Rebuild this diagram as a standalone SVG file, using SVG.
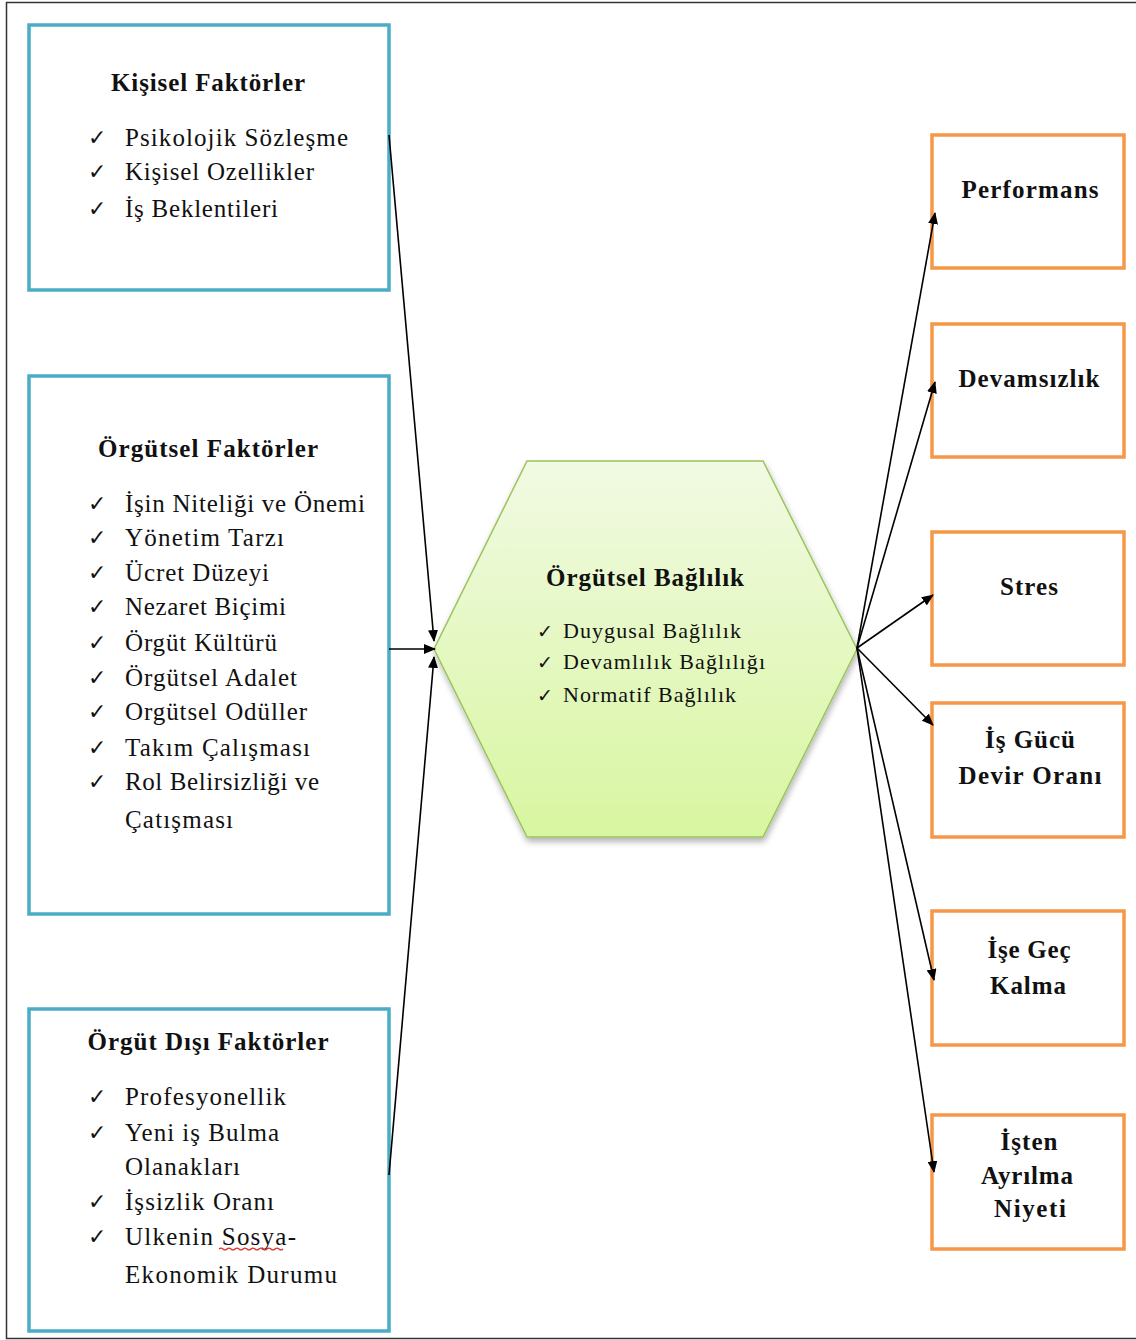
<svg xmlns="http://www.w3.org/2000/svg" width="1136" height="1340" viewBox="0 0 1136 1340">
  <defs>
    <linearGradient id="hexFill" x1="0" y1="0" x2="0" y2="1">
      <stop offset="0" stop-color="#f1fae3"/>
      <stop offset="1" stop-color="#d8f6a0"/>
    </linearGradient>
    <filter id="softShadow" x="-10%" y="-10%" width="120%" height="125%">
      <feGaussianBlur in="SourceAlpha" stdDeviation="3"/>
      <feOffset dx="1" dy="4" result="b"/>
      <feComponentTransfer><feFuncA type="linear" slope="0.3"/></feComponentTransfer>
      <feMerge><feMergeNode/><feMergeNode in="SourceGraphic"/></feMerge>
    </filter>
    <marker id="arrow" viewBox="0 0 12 10" refX="11" refY="5" markerWidth="12" markerHeight="10" markerUnits="userSpaceOnUse" orient="auto">
      <path d="M0,0 L12,5 L0,10 Z" fill="#000"/>
    </marker>
  </defs>
  <style>
    .frame { fill: none; stroke: #333; stroke-width: 1.5; }
    .blue { fill: #fff; stroke: #4bacc6; stroke-width: 3.5; }
    .orange { fill: #fff; stroke: #f79646; stroke-width: 3.5; }
    .title { font-family: "Liberation Serif", "Times New Roman", serif; font-size: 25px; font-weight: bold; fill: #111; text-anchor: middle; }
    .item { font-family: "Liberation Serif", "Times New Roman", serif; font-size: 25px; fill: #111; }
    .hitem { font-family: "Liberation Serif", "Times New Roman", serif; font-size: 22px; fill: #111; }
    .check { font-family: "DejaVu Sans", sans-serif; font-size: 22px; fill: #111; }
    .hcheck { font-family: "DejaVu Sans", sans-serif; font-size: 19px; fill: #111; }
    .conn { fill: none; stroke: #000; stroke-width: 1.6; marker-end: url(#arrow); }
  </style>

  <rect width="1136" height="1340" fill="#fff"/>
  <rect class="frame" x="6.5" y="2.5" width="1140" height="1336"/>

  <!-- personal factors -->
  <g id="kisisel">
    <rect class="blue" x="29" y="25" width="360" height="265"/>
    <text class="title" x="208" y="91" textLength="194" lengthAdjust="spacing">Kişisel Faktörler</text>
    <text class="check" x="88" y="145">✓</text>
    <text class="item" x="125" y="146" textLength="223" lengthAdjust="spacing">Psikolojik Sözleşme</text>
    <text class="check" x="88" y="179">✓</text>
    <text class="item" x="125" y="180" textLength="189" lengthAdjust="spacing">Kişisel Ozellikler</text>
    <text class="check" x="88" y="216">✓</text>
    <text class="item" x="125" y="217" textLength="153" lengthAdjust="spacing">İş Beklentileri</text>
  </g>

  <!-- organisational factors -->
  <g id="orgutsel">
    <rect class="blue" x="29" y="376" width="360" height="538"/>
    <text class="title" x="208" y="457" textLength="220" lengthAdjust="spacing">Örgütsel Faktörler</text>
    <text class="check" x="88" y="511">✓</text>
    <text class="item" x="125" y="512" textLength="240" lengthAdjust="spacing">İşin Niteliği ve Önemi</text>
    <text class="check" x="88" y="545">✓</text>
    <text class="item" x="125" y="546" textLength="159" lengthAdjust="spacing">Yönetim Tarzı</text>
    <text class="check" x="88" y="580">✓</text>
    <text class="item" x="125" y="581" textLength="144" lengthAdjust="spacing">Ücret Düzeyi</text>
    <text class="check" x="88" y="614">✓</text>
    <text class="item" x="125" y="615" textLength="161" lengthAdjust="spacing">Nezaret Biçimi</text>
    <text class="check" x="88" y="650">✓</text>
    <text class="item" x="125" y="651" textLength="152" lengthAdjust="spacing">Örgüt Kültürü</text>
    <text class="check" x="88" y="685">✓</text>
    <text class="item" x="125" y="686" textLength="172" lengthAdjust="spacing">Örgütsel Adalet</text>
    <text class="check" x="88" y="719">✓</text>
    <text class="item" x="125" y="720" textLength="182" lengthAdjust="spacing">Orgütsel Odüller</text>
    <text class="check" x="88" y="755">✓</text>
    <text class="item" x="125" y="756" textLength="185" lengthAdjust="spacing">Takım Çalışması</text>
    <text class="check" x="88" y="789">✓</text>
    <text class="item" x="125" y="790" textLength="194" lengthAdjust="spacing">Rol Belirsizliği ve</text>
    <text class="item" x="125" y="828" textLength="108" lengthAdjust="spacing">Çatışması</text>
  </g>

  <!-- external factors -->
  <g id="orgut-disi">
    <rect class="blue" x="29" y="1009" width="360" height="322"/>
    <text class="title" x="208" y="1050" textLength="241" lengthAdjust="spacing">Örgüt Dışı Faktörler</text>
    <text class="check" x="88" y="1104">✓</text>
    <text class="item" x="125" y="1105" textLength="161" lengthAdjust="spacing">Profesyonellik</text>
    <text class="check" x="88" y="1140">✓</text>
    <text class="item" x="125" y="1141" textLength="154" lengthAdjust="spacing">Yeni iş Bulma</text>
    <text class="item" x="125" y="1175" textLength="115" lengthAdjust="spacing">Olanakları</text>
    <text class="check" x="88" y="1209">✓</text>
    <text class="item" x="125" y="1210" textLength="149" lengthAdjust="spacing">İşsizlik Oranı</text>
    <text class="check" x="88" y="1244">✓</text>
    <text class="item" x="125" y="1245" textLength="171" lengthAdjust="spacing">Ulkenin Sosya-</text>
    <!-- spell-check squiggle under "Sosya" -->
    <path d="M219,1249 q2,-2 4,0 t4,0 t4,0 t4,0 t4,0 t4,0 t4,0 t4,0 t4,0 t4,0 t4,0 t4,0 t4,0 t4,0 t4,0 t4,0" fill="none" stroke="#e03030" stroke-width="1.2"/>
    <text class="item" x="125" y="1283" textLength="212" lengthAdjust="spacing">Ekonomik Durumu</text>
  </g>

  <!-- central hexagon -->
  <g id="orgutsel-baglilik">
    <polygon points="527,461 763,461 857,649 763,837 527,837 434,649" fill="url(#hexFill)" stroke="#9bc45c" stroke-width="1.5" filter="url(#softShadow)"/>
    <text class="title" x="645" y="586" textLength="198" lengthAdjust="spacing">Örgütsel Bağlılık</text>
    <text class="hcheck" x="537" y="638">✓</text>
    <text class="hitem" x="563" y="638" textLength="178" lengthAdjust="spacing">Duygusal Bağlılık</text>
    <text class="hcheck" x="537" y="669">✓</text>
    <text class="hitem" x="563" y="669" textLength="202" lengthAdjust="spacing">Devamlılık Bağlılığı</text>
    <text class="hcheck" x="537" y="702">✓</text>
    <text class="hitem" x="563" y="702" textLength="173" lengthAdjust="spacing">Normatif Bağlılık</text>
  </g>

  <!-- outcomes -->
  <g id="performans">
    <rect class="orange" x="932" y="135" width="192" height="133"/>
    <text class="title" x="1030" y="198" textLength="137" lengthAdjust="spacing">Performans</text>
  </g>
  <g id="devamsizlik">
    <rect class="orange" x="932" y="324" width="192" height="133"/>
    <text class="title" x="1029" y="387" textLength="141" lengthAdjust="spacing">Devamsızlık</text>
  </g>
  <g id="stres">
    <rect class="orange" x="932" y="532" width="192" height="133"/>
    <text class="title" x="1029" y="595" textLength="58" lengthAdjust="spacing">Stres</text>
  </g>
  <g id="is-gucu-devir">
    <rect class="orange" x="932" y="703" width="192" height="134"/>
    <text class="title" x="1030" y="748" textLength="90" lengthAdjust="spacing">İş Gücü</text>
    <text class="title" x="1030" y="784" textLength="143" lengthAdjust="spacing">Devir Oranı</text>
  </g>
  <g id="ise-gec-kalma">
    <rect class="orange" x="932" y="911" width="192" height="134"/>
    <text class="title" x="1029" y="958" textLength="83" lengthAdjust="spacing">İşe Geç</text>
    <text class="title" x="1028" y="994" textLength="76" lengthAdjust="spacing">Kalma</text>
  </g>
  <g id="isten-ayrilma">
    <rect class="orange" x="932" y="1115" width="192" height="134"/>
    <text class="title" x="1029" y="1150" textLength="57" lengthAdjust="spacing">İşten</text>
    <text class="title" x="1027" y="1184" textLength="92" lengthAdjust="spacing">Ayrılma</text>
    <text class="title" x="1030" y="1217" textLength="72" lengthAdjust="spacing">Niyeti</text>
  </g>

  <!-- connectors -->
  <g id="connectors">
    <line class="conn" x1="389" y1="135" x2="434" y2="641"/>
    <line class="conn" x1="389" y1="649" x2="435" y2="649"/>
    <line class="conn" x1="389" y1="1175" x2="434" y2="657"/>
    <line class="conn" x1="857" y1="648" x2="935" y2="213"/>
    <line class="conn" x1="857" y1="648" x2="935" y2="382"/>
    <line class="conn" x1="857" y1="648" x2="933" y2="595"/>
    <line class="conn" x1="857" y1="648" x2="933" y2="725"/>
    <line class="conn" x1="857" y1="648" x2="934" y2="980"/>
    <line class="conn" x1="857" y1="648" x2="934" y2="1172"/>
  </g>
</svg>
